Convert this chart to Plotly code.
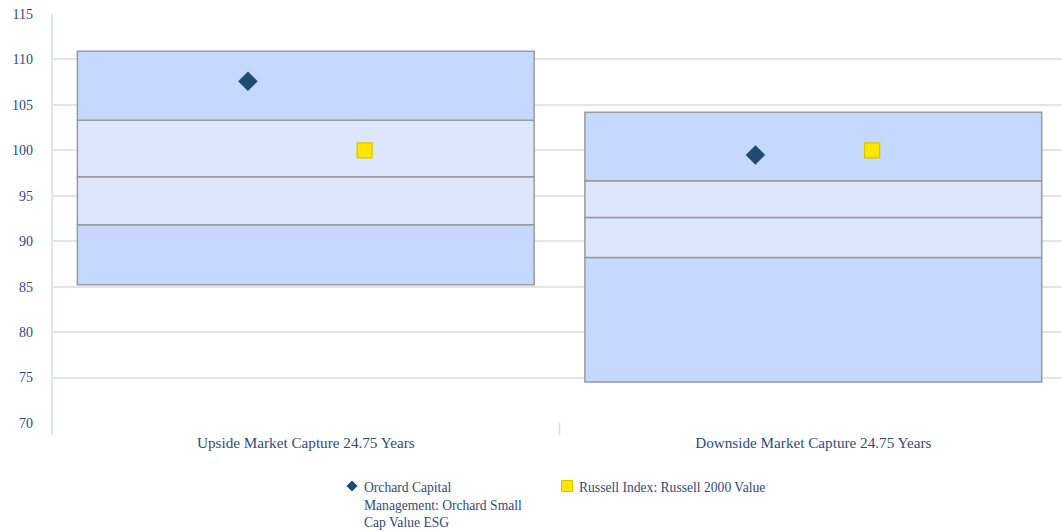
import plotly.graph_objects as go

# Capture-ratio ranges (percentile band edges) per category
categories = ["Upside Market Capture 24.75 Years", "Downside Market Capture 24.75 Years"]
band_p05 = [110.9, 104.2]
band_p25 = [103.3, 96.65]
band_p50 = [97.1, 92.6]
band_p75 = [91.8, 88.2]
band_p95 = [85.2, 74.5]

fund_name = "Orchard Capital<br>Management: Orchard Small<br>Cap Value ESG"
fund_values = [107.6, 99.5]
index_name = "Russell Index: Russell 2000 Value"
index_values = [100.0, 100.0]

y_ticks = [70, 75, 80, 85, 90, 95, 100, 105, 110, 115]

TEXT = "#2F4B7C"
FONT = "Liberation Serif, Times New Roman, serif"
DARK_BAND = "#C5D8FD"
LIGHT_BAND = "#DCE6FC"
EDGE = "#9A9A9A"
FUND_COLOR = "#1F4A74"
INDEX_COLOR = "#FFE600"
INDEX_EDGE = "#D9C400"

W, H = 1062, 532
M_L, M_R, M_T, M_B = 52, 0, 14, 109
PLOT_W = W - M_L - M_R
PLOT_H = H - M_T - M_B


def px_x(px):
    return (px - M_L) / PLOT_W


def px_y(py):
    return (H - M_B - py) / PLOT_H


x_pos = list(range(len(categories)))
fig = go.Figure()

# Stacked bands drawn as floating bars
bands = [
    (band_p95, band_p75, DARK_BAND),
    (band_p75, band_p50, LIGHT_BAND),
    (band_p50, band_p25, LIGHT_BAND),
    (band_p25, band_p05, DARK_BAND),
]
for lo, hi, col in bands:
    fig.add_trace(go.Bar(
        x=x_pos, base=lo, y=[h - l for h, l in zip(hi, lo)],
        width=0.9, marker=dict(color=col, line=dict(color=EDGE, width=1.5)),
        showlegend=False, hoverinfo="skip",
    ))

fig.add_trace(go.Scatter(
    x=[p - 0.114 for p in x_pos], y=fund_values, mode="markers", name="Orchard Small Cap Value ESG",
    marker=dict(symbol="diamond", size=15, color=FUND_COLOR, line=dict(width=0)),
    showlegend=False,
))
fig.add_trace(go.Scatter(
    x=[p + 0.116 for p in x_pos], y=index_values, mode="markers", name=index_name,
    marker=dict(symbol="square", size=15, color=INDEX_COLOR, line=dict(color=INDEX_EDGE, width=1.2)),
    showlegend=False,
))

shapes = [
    dict(type="line", xref="paper", yref="paper", x0=0, x1=0, y0=1, y1=-0.03,
         line=dict(color="#D6DEEC", width=1.5), layer="below"),
    dict(type="line", xref="x", yref="paper", x0=0.5, x1=0.5, y0=0, y1=-0.03,
         line=dict(color="#D6DEEC", width=1.5)),
]

# Legend below the chart: pixel-sized symbols plus text labels
LEGEND_Y = 486
fund_sym_x, index_sym_x = 352, 567
shapes.append(dict(
    type="path", xref="paper", yref="paper", xsizemode="pixel", ysizemode="pixel",
    xanchor=px_x(fund_sym_x), yanchor=px_y(LEGEND_Y),
    path="M 0 -5.5 L 5.5 0 L 0 5.5 L -5.5 0 Z",
    fillcolor=FUND_COLOR, line=dict(width=0),
))
shapes.append(dict(
    type="rect", xref="paper", yref="paper", xsizemode="pixel", ysizemode="pixel",
    xanchor=px_x(index_sym_x), yanchor=px_y(LEGEND_Y),
    x0=-5.5, x1=5.5, y0=-5.5, y1=5.5,
    fillcolor=INDEX_COLOR, line=dict(color=INDEX_EDGE, width=1),
))
for label, px in [(fund_name, fund_sym_x), (index_name, index_sym_x)]:
    fig.add_annotation(
        text=label, xref="paper", yref="paper",
        x=px_x(px + 10), y=px_y(478),
        xanchor="left", yanchor="top", align="left", showarrow=False,
        font=dict(family=FONT, size=13.6, color=TEXT),
    )

fig.update_layout(
    width=W, height=H,
    margin=dict(l=M_L, r=M_R, t=M_T, b=M_B, autoexpand=False),
    plot_bgcolor="white", paper_bgcolor="white",
    barmode="overlay", showlegend=False,
    font=dict(family=FONT, size=13, color=TEXT),
    xaxis=dict(
        range=[-0.5, 1.49], tickvals=x_pos, ticktext=categories,
        showgrid=False, zeroline=False, showline=False, ticks="",
        ticklabelstandoff=9,
        tickfont=dict(family=FONT, size=15.2, color=TEXT),
    ),
    yaxis=dict(
        range=[70, 115], tickvals=y_ticks, showgrid=True, gridcolor="#E4E4E4",
        gridwidth=1.5, zeroline=False, showline=False, ticks="",
        ticklabelstandoff=18,
        tickfont=dict(family=FONT, size=14, color=TEXT),
    ),
    shapes=shapes,
)

fig.write_html("out.html")
